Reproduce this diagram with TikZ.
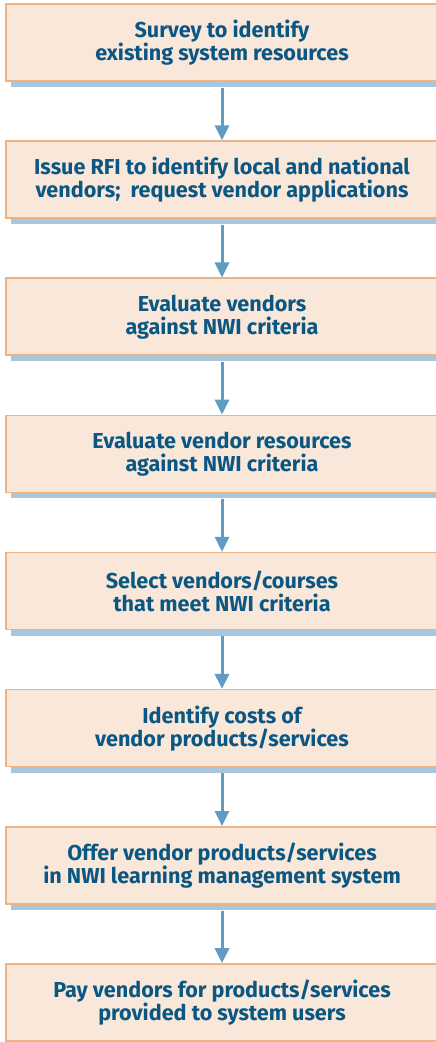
\documentclass[tikz,border=0pt]{standalone}
\usepackage{fontspec}
\setsansfont{Fira Sans}
\usetikzlibrary{positioning,arrows.meta,shadows}
\definecolor{boxfill}{HTML}{F9E7D9}
\definecolor{boxline}{HTML}{EEB380}
\definecolor{shade}{HTML}{A8C6DC}
\definecolor{flowline}{HTML}{5F9BC2}
\definecolor{ink}{HTML}{0B5784}

\tikzset{
  stepbox/.style={draw=boxline,fill=boxfill,line width=1.6pt,
    minimum width=432pt,minimum height=77pt,inner sep=0pt,
    align=center,text=ink,font=\sffamily\bfseries\fontsize{21.6}{23}\selectfont,
    drop shadow={shadow xshift=5pt,shadow yshift=-6pt,opacity=1,fill=shade}},
  flow/.style={draw=flowline,line width=3pt,
    -{Triangle[width=14pt,length=15pt]}}
}

\begin{document}
\begin{tikzpicture}[x=1pt,y=1pt]
  \useasboundingbox (0,0) rectangle (436,1042);
  \clip (0,0) rectangle (436,1042);

  \foreach \i/\lab in {%
    1/{Survey to identify\\existing system resources},
    2/{Issue RFI to identify local and national\\vendors;\ \ request vendor applications},
    3/{Evaluate vendors\\against NWI criteria},
    4/{Evaluate vendor resources\\against NWI criteria},
    5/{Select vendors/courses\\that meet NWI criteria},
    6/{Identify costs of\\vendor products/services},
    7/{Offer vendor products/services\\in NWI learning management system},
    8/{Pay vendors for products/services\\provided to system users}}{
    \node[stepbox] (s\i) at (222,{999.5-137.14*(\i-1)}) {\lab};}

  % arrows leave from under the shadow strip
  \foreach \i [evaluate=\i as \j using int(\i+1)] in {1,...,7}
    \draw[flow] ([yshift=-6pt]s\i.south) -- (s\j.north);
\end{tikzpicture}
\end{document}
